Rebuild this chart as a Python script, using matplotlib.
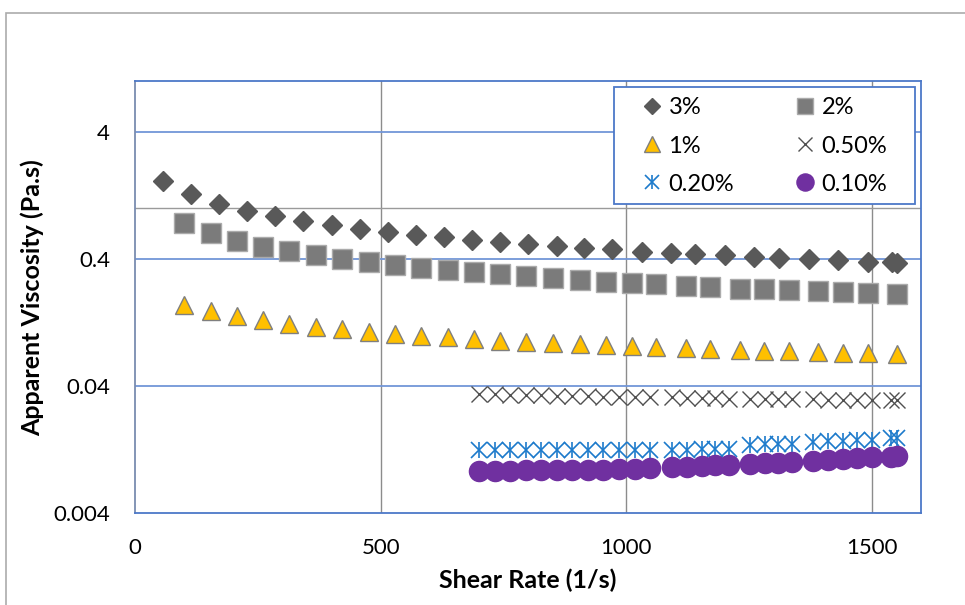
import matplotlib
matplotlib.use("Agg")
import matplotlib.pyplot as plt
from matplotlib.patches import Rectangle
from matplotlib.legend_handler import HandlerTuple

plt.rcParams['font.family'] = ['Lato', 'DejaVu Sans']

# shear rate (1/s) and apparent viscosity (Pa.s) for each concentration
x_3 = [57, 114, 171, 228, 285, 342, 401, 458, 515, 572, 629, 686, 743, 800,
       859, 914, 971, 1032, 1091, 1140, 1201, 1260, 1311, 1372, 1431, 1492, 1541, 1551]
y_3 = [1.645, 1.300, 1.084, 0.955, 0.873, 0.797, 0.741, 0.689, 0.653, 0.618, 0.596, 0.564, 0.544, 0.525,
       0.506, 0.488, 0.480, 0.454, 0.446, 0.438, 0.430, 0.415, 0.407, 0.400, 0.393, 0.379, 0.379, 0.372]

x_2 = [100, 155, 208, 261, 314, 369, 421, 476, 529, 582, 637, 690, 743, 796,
       851, 906, 959, 1012, 1061, 1122, 1171, 1232, 1281, 1331, 1391, 1441, 1492, 1551]
y_2 = [0.768, 0.641, 0.554, 0.497, 0.462, 0.430, 0.400, 0.379, 0.359, 0.340, 0.328, 0.316, 0.305, 0.294,
       0.283, 0.273, 0.264, 0.259, 0.254, 0.245, 0.241, 0.232, 0.232, 0.228, 0.224, 0.220, 0.216, 0.212]

x_1 = x_2
y_1 = [0.1747, 0.1558, 0.1423, 0.1324, 0.1242, 0.1176, 0.1124, 0.1074, 0.1032, 0.0996, 0.0972, 0.0941,
       0.0913, 0.0891, 0.0877, 0.0852, 0.0841, 0.0830, 0.0814, 0.0792, 0.0782, 0.0771, 0.0759, 0.0752,
       0.0744, 0.0734, 0.0728, 0.0714]

x_low = [700, 733, 763, 796, 827, 859, 890, 923, 953, 985, 1018, 1048, 1093, 1124,
         1155, 1181, 1210, 1252, 1282, 1309, 1338, 1380, 1411, 1441, 1470, 1500, 1538, 1551]
y_05 = [0.0345, 0.0344, 0.0342, 0.0340, 0.0338, 0.0336, 0.0334, 0.0332, 0.0330, 0.0329, 0.0328, 0.0326,
        0.0325, 0.0323, 0.0322, 0.0320, 0.0319, 0.0318, 0.0317, 0.0316, 0.0315, 0.0314, 0.0313, 0.0312,
        0.0312, 0.0311, 0.0310, 0.0310]
y_02 = [0.0125, 0.0125, 0.0125, 0.0125, 0.0125, 0.0125, 0.0125, 0.0125, 0.0125, 0.0126, 0.0126, 0.0126,
        0.0126, 0.0126, 0.0127, 0.0127, 0.0127, 0.0137, 0.0139, 0.0140, 0.0141, 0.0146, 0.0148, 0.0149,
        0.0150, 0.0151, 0.0155, 0.0157]
y_01 = [0.0086, 0.0086, 0.0086, 0.0087, 0.0087, 0.0087, 0.0088, 0.0088, 0.0088, 0.0089, 0.0089, 0.0090,
        0.0092, 0.0093, 0.0094, 0.0095, 0.0096, 0.0098, 0.0099, 0.0100, 0.0101, 0.0103, 0.0105, 0.0107,
        0.0108, 0.0110, 0.0111, 0.0113]

y_ticks = [0.004, 0.04, 0.4, 4]
y_tick_labels = ['0.004', '0.04', '0.4', '4']
x_ticks = [0, 500, 1000, 1500]

fig = plt.figure(figsize=(9.65, 6.05), dpi=100)
ax = fig.add_axes([0.1399, 0.152, 0.8145, 0.7133])

# outer chart frame
fig.patches.append(Rectangle((6 / 965, -0.1), 1.2, 1 - 13 / 605 + 0.1, transform=fig.transFigure,
                             fill=False, edgecolor='#ABABAB', linewidth=1.2))

h3, = ax.plot(x_3, y_3, 'D', ms=10, color='#595959', mec='#595959', label='3%', zorder=3)
h2, = ax.plot(x_2, y_2, 's', ms=14, color='#7B7B7B', mec='#ABABAB', mew=1, label='2%', zorder=3)
h1, = ax.plot(x_1, y_1, '^', ms=13.5, color='#FFC000', mec='#7F7F7F', mew=1, label='1%', zorder=3)
h05, = ax.plot(x_low, y_05, 'x', ms=11.5, color='#505050', mew=1, label='0.50%', zorder=3)
h02a, = ax.plot(x_low, y_02, 'x', ms=11.5, color='#1C7ACB', mew=1.2, zorder=3)
h02b, = ax.plot(x_low, y_02, '|', ms=11.5, color='#1C7ACB', mew=1.2, zorder=3)
h01, = ax.plot(x_low, y_01, 'o', ms=14.5, color='#7030A0', mec='#7030A0', label='0.10%', zorder=3)

ax.set_yscale('log')
ax.set_ylim(0.004, 10)
ax.set_xlim(0, 1600)
ax.set_yticks(y_ticks)
ax.set_yticklabels(y_tick_labels)
ax.minorticks_off()
ax.set_xticks(x_ticks)
ax.tick_params(length=0, labelsize=16, colors='#000000')
ax.tick_params(axis='x', pad=18)
ax.tick_params(axis='y', pad=18)

for v in x_ticks[1:]:
    ax.axvline(v, color='#8C8C8C', lw=1, zorder=1)
for v in y_ticks[1:]:
    ax.axhline(v, color='#7296D8', lw=1.3, zorder=1)
ax.axhline(1.0, color='#9A9A9A', lw=1, zorder=1)

for side in ['top', 'right', 'bottom']:
    ax.spines[side].set_color('#4C78C8')
    ax.spines[side].set_linewidth(1.3)
ax.spines['left'].set_color('#7A8CB0')
ax.spines['left'].set_linewidth(1.3)

ax.set_xlabel('Shear Rate (1/s)', fontsize=18, fontweight='bold')
ax.set_ylabel('Apparent Viscosity (Pa.s)', fontsize=18, fontweight='bold')
ax.xaxis.set_label_coords(0.5, -0.128)
ax.yaxis.set_label_coords(-0.115, 0.5)

# legend box drawn separately so its padding can be set freely
ax.add_patch(Rectangle((0.6094, 0.7161), 0.383, 0.2712, transform=ax.transAxes,
                       facecolor='white', edgecolor='#4C78C8', linewidth=1.3, zorder=4))

handles = [h3, h1, (h02a, h02b), h2, h05, h01]
labels = ['3%', '1%', '0.20%', '2%', '0.50%', '0.10%']
leg = ax.legend(handles, labels, ncol=2, loc='center left',
                bbox_to_anchor=(0.6457, 0.8505), borderaxespad=0, borderpad=0,
                fontsize=17, markerscale=0.85, handlelength=0.8, handletextpad=0.3,
                labelspacing=0.73, columnspacing=2.6, frameon=False,
                handler_map={tuple: HandlerTuple(ndivide=1)})
leg.set_zorder(5)

fig.savefig('out.png', dpi=100, facecolor='white')
